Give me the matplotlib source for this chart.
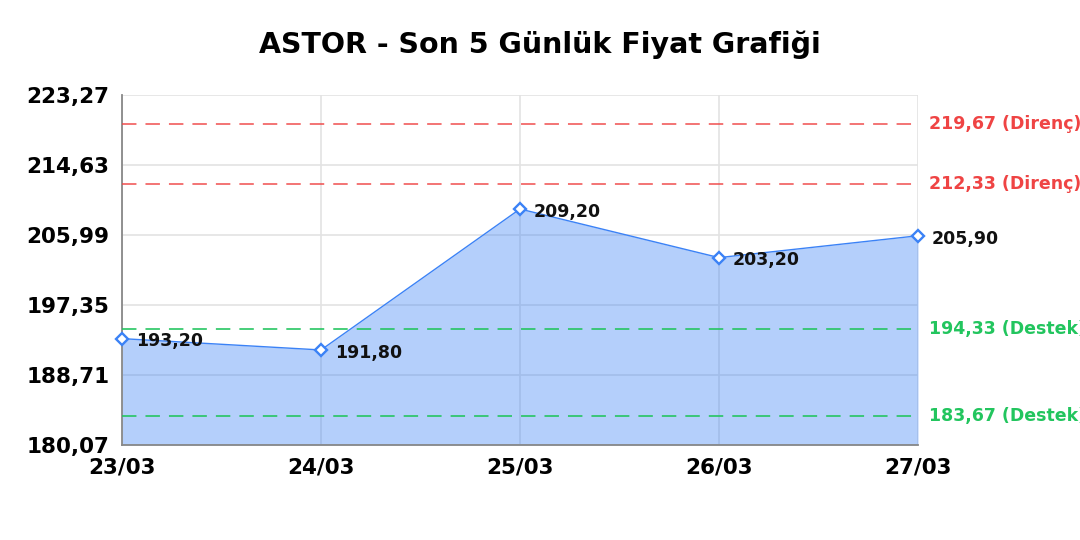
import matplotlib.pyplot as plt

plt.rcParams["font.family"] = ["DejaVu Sans"]

# data
dates = ["23/03", "24/03", "25/03", "26/03", "27/03"]
prices = [193.20, 191.80, 209.20, 203.20, 205.90]
y_ticks = [180.07, 188.71, 197.35, 205.99, 214.63, 223.27]
resistance = [219.67, 212.33]
support = [194.33, 183.67]

blue = "#3b82f6"
red = "#ef4444"
green = "#22c55e"

fig = plt.figure(figsize=(10.8, 5.4), dpi=100)
ax = fig.add_axes([122 / 1080, 1 - 445 / 540, (918 - 122) / 1080, 350 / 540])

x = list(range(len(dates)))
ax.fill_between(x, prices, y_ticks[0], color=blue, alpha=0.38, linewidth=0, zorder=2)
ax.plot(x, prices, color=blue, linewidth=1.0, zorder=3)
ax.plot(x, prices, linestyle="none", marker="D", markersize=6.5, markerfacecolor="white",
        markeredgecolor=blue, markeredgewidth=1.7, zorder=5, clip_on=False)

for xi, p in zip(x, prices):
    ax.annotate(f"{p:.2f}".replace(".", ","), (xi, p), xytext=(10, -2),
                textcoords="offset points", ha="left", va="center",
                fontsize=12.5, fontweight="bold", color="#111111", zorder=6)

# support / resistance lines
for lvl in resistance:
    ax.axhline(lvl, color=red, alpha=0.8, linewidth=1.3, dashes=(8, 5), zorder=4)
    ax.annotate(f"{lvl:.2f}".replace(".", ",") + " (Direnç)", (1, lvl), xycoords=("axes fraction", "data"),
                xytext=(8, 0), textcoords="offset points", ha="left", va="center",
                fontsize=12.5, fontweight="bold", color=red, annotation_clip=False)
for lvl in support:
    ax.axhline(lvl, color=green, alpha=0.9, linewidth=1.3, dashes=(8, 5), zorder=4)
    ax.annotate(f"{lvl:.2f}".replace(".", ",") + " (Destek)", (1, lvl), xycoords=("axes fraction", "data"),
                xytext=(8, 0), textcoords="offset points", ha="left", va="center",
                fontsize=12.5, fontweight="bold", color=green, annotation_clip=False)

ax.set_xlim(0, len(dates) - 1)
ax.set_ylim(y_ticks[0], y_ticks[-1])
ax.set_xticks(x)
ax.set_xticklabels(dates, fontsize=15.5, fontweight="bold")
ax.set_yticks(y_ticks)
ax.set_yticklabels([f"{t:.2f}".replace(".", ",") for t in y_ticks], fontsize=15.5, fontweight="bold")
ax.tick_params(axis="y", length=0, pad=9)
ax.tick_params(axis="x", length=0, pad=9)

ax.grid(True, color="#e3e3e3", linewidth=1.2, zorder=1)
ax.set_axisbelow(True)
for s in ["top", "right"]:
    ax.spines[s].set_visible(False)
for s in ["left", "bottom"]:
    ax.spines[s].set_color("#888888")
    ax.spines[s].set_linewidth(1.3)

fig.text(0.5, 1 - 45 / 540, "ASTOR - Son 5 Günlük Fiyat Grafiği", ha="center", va="center",
         fontsize=20.5, fontweight="bold")

fig.savefig("out.png", dpi=100)
